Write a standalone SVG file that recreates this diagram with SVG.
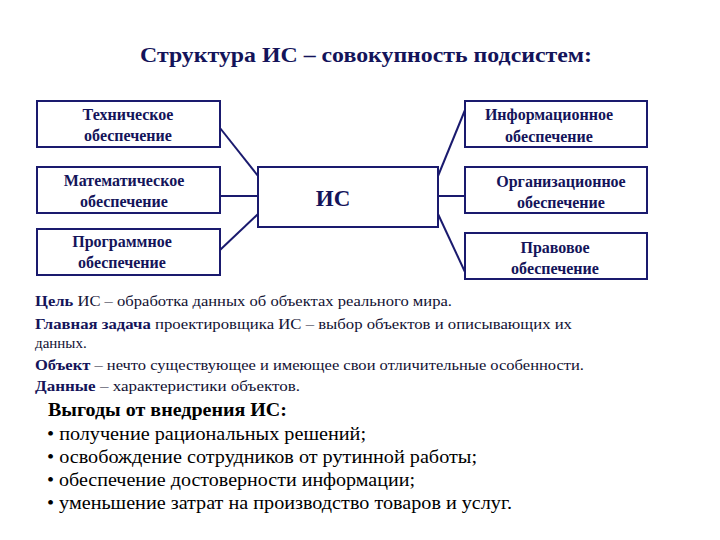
<svg xmlns="http://www.w3.org/2000/svg" width="720" height="540" viewBox="0 0 720 540">
<style>
text{font-family:"Liberation Serif","DejaVu Serif","Times New Roman",serif;fill:#14145a}
.b{fill:#fff;stroke:#1a1a6e;stroke-width:2}
.l{font-size:16px;font-weight:bold;text-anchor:middle}
.c line{stroke:#1a1a6e;stroke-width:2}
.t{font-size:15px;fill:#111133}
.bl{font-size:18px;fill:#000}
</style>
<rect width="720" height="540" fill="#fff"/>
<text x="140" y="62" font-size="21" font-weight="bold" textLength="452" lengthAdjust="spacingAndGlyphs">Структура ИС – совокупность подсистем:</text>
<g class="c">
<line x1="220" y1="128" x2="258" y2="176"/>
<line x1="220" y1="196" x2="258" y2="196"/>
<line x1="220" y1="250" x2="258" y2="214"/>
<line x1="438" y1="176" x2="465" y2="110"/>
<line x1="438" y1="196" x2="465" y2="196"/>
<line x1="438" y1="214" x2="465" y2="272"/>
</g>
<g id="tech"><rect class="b" x="37" y="101" width="183" height="46"/><text class="l" x="128" y="120">Техническое</text><text class="l" x="128" y="141">обеспечение</text></g>
<g id="math"><rect class="b" x="37" y="167" width="183" height="46"/><text class="l" x="124" y="186">Математическое</text><text class="l" x="124" y="207">обеспечение</text></g>
<g id="prog"><rect class="b" x="37" y="229" width="183" height="46"/><text class="l" x="122" y="247">Программное</text><text class="l" x="122" y="268">обеспечение</text></g>
<g id="is"><rect class="b" x="258" y="167" width="180" height="60"/><text x="333" y="206" font-size="23" font-weight="bold" text-anchor="middle">ИС</text></g>
<g id="info"><rect class="b" x="465" y="101" width="182" height="46"/><text class="l" x="549" y="120">Информационное</text><text class="l" x="549" y="142">обеспечение</text></g>
<g id="org"><rect class="b" x="465" y="167" width="182" height="46"/><text class="l" x="561" y="187">Организационное</text><text class="l" x="561" y="208">обеспечение</text></g>
<g id="prav"><rect class="b" x="465" y="233" width="182" height="46"/><text class="l" x="555" y="253">Правовое</text><text class="l" x="555" y="274">обеспечение</text></g>
<text class="t" x="35" y="306" textLength="417" lengthAdjust="spacingAndGlyphs"><tspan font-weight="bold" fill="#14145a">Цель</tspan> ИС  – обработка данных об объектах реального мира.</text>
<text class="t" x="35" y="329" textLength="537" lengthAdjust="spacingAndGlyphs"><tspan font-weight="bold" fill="#14145a">Главная задача</tspan> проектировщика ИС  – выбор объектов и описывающих их</text>
<text class="t" x="35" y="348" font-size="14">данных.</text>
<text class="t" x="35" y="370" textLength="549" lengthAdjust="spacingAndGlyphs"><tspan font-weight="bold" fill="#14145a">Объект</tspan>  –  нечто существующее и имеющее свои отличительные особенности.</text>
<text class="t" x="35" y="391" textLength="265" lengthAdjust="spacingAndGlyphs"><tspan font-weight="bold" fill="#14145a">Данные</tspan>  –  характеристики объектов.</text>
<text class="bl" x="48" y="416" font-weight="bold" textLength="239" lengthAdjust="spacingAndGlyphs">Выгоды от внедрения ИС:</text>
<text class="bl" x="47" y="440" textLength="319" lengthAdjust="spacingAndGlyphs">• получение рациональных решений;</text>
<text class="bl" x="47" y="463" textLength="430" lengthAdjust="spacingAndGlyphs">• освобождение сотрудников от рутинной работы;</text>
<text class="bl" x="47" y="486" textLength="368" lengthAdjust="spacingAndGlyphs">• обеспечение достоверности информации;</text>
<text class="bl" x="47" y="509" textLength="465" lengthAdjust="spacingAndGlyphs">• уменьшение затрат на производство товаров и услуг.</text>
</svg>
